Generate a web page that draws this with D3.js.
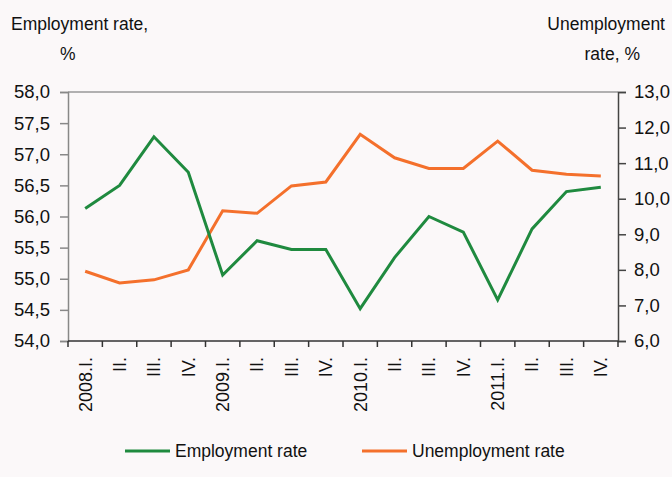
<!DOCTYPE html>
<html lang="en">
<head>
    <meta charset="UTF-8">
    <title>Employment and unemployment rate</title>
    <style>
    body { margin: 0; background: #fbf8f9; }
    svg { display: block; font-family: "Liberation Sans Narrow", "Liberation Sans", Arial, sans-serif; }
    .line { fill: none; stroke-width: 3px; stroke-linejoin: miter; }
    </style>
</head>
<body>
    <svg width="672" height="477"></svg>
    <script src="https://d3js.org/d3.v7.min.js"></script>
    <script type="text/javascript">
        var quarters = ["2008.I.", "II.", "III.", "IV.", "2009.I.", "II.", "III.", "IV.",
                        "2010.I.", "II.", "III.", "IV.", "2011.I.", "II.", "III.", "IV."];
        var employment = [56.13, 56.5, 57.28, 56.71, 55.06, 55.61, 55.47, 55.47,
                          54.52, 55.34, 56.0, 55.75, 54.66, 55.8, 56.4, 56.47];
        var unemployment = [7.96, 7.63, 7.72, 8.0, 9.66, 9.59, 10.36, 10.47,
                            11.81, 11.15, 10.85, 10.85, 11.62, 10.8, 10.69, 10.64];
        var leftTicks = [54, 54.5, 55, 55.5, 56, 56.5, 57, 57.5, 58];
        var rightTicks = [6, 7, 8, 9, 10, 11, 12, 13];

        var green = "#1f8a3f", orange = "#f4702c";

        var svg = d3.select("svg"),
            margin = {top: 92, right: 54, bottom: 136, left: 68},
            width = 672 - margin.left - margin.right,
            height = 477 - margin.top - margin.bottom,
            g = svg.append("g").attr("transform", "translate(" + margin.left + "," + margin.top + ")");

        var x = d3.scaleBand().domain(d3.range(quarters.length)).range([0, width]),
            yL = d3.scaleLinear().domain([54, 58]).range([height, 0]),
            yR = d3.scaleLinear().domain([6, 13]).range([height, 0]);

        var fmt = function(d) { return d3.format(".1f")(d).replace(".", ","); };

        // top frame line
        g.append("line")
          .attr("x1", 0).attr("x2", width)
          .attr("y1", 0).attr("y2", 0)
          .attr("stroke", "#999").attr("stroke-width", 1.5);

        var axL = g.append("g")
          .call(d3.axisLeft(yL).tickValues(leftTicks).tickFormat(fmt).tickSize(8).tickPadding(10));
        axL.select(".domain").attr("stroke", "#888").attr("stroke-width", 1.5);
        axL.selectAll(".tick line").attr("stroke", "#888").attr("stroke-width", 1.5);
        axL.selectAll("text").attr("font-size", "18.5px").attr("fill", "#111").attr("font-family", null);

        var axR = g.append("g")
          .attr("transform", "translate(" + width + ",0)")
          .call(d3.axisRight(yR).tickValues(rightTicks).tickFormat(fmt).tickSize(8).tickPadding(8));
        axR.select(".domain").attr("stroke", "#444").attr("stroke-width", 1.5);
        axR.selectAll(".tick line").attr("stroke", "#444").attr("stroke-width", 1.5);
        axR.selectAll("text").attr("font-size", "18.5px").attr("fill", "#111").attr("font-family", null);

        // bottom axis with ticks at band edges
        var edges = d3.range(quarters.length + 1).map(function(i) { return i * x.step(); });
        var axB = g.append("g").attr("transform", "translate(0," + height + ")");
        axB.append("line").attr("x1", 0).attr("x2", width)
          .attr("stroke", "#333").attr("stroke-width", 1.5);
        axB.selectAll(".edge").data(edges).enter().append("line")
          .attr("x1", function(d) { return d; }).attr("x2", function(d) { return d; })
          .attr("y1", 0).attr("y2", 6)
          .attr("stroke", "#333").attr("stroke-width", 1.5);
        axB.selectAll(".qlabel").data(quarters).enter().append("text")
          .attr("transform", function(d, i) {
            return "translate(" + (x(i) + x.bandwidth() / 2) + ",16) rotate(-90)";
          })
          .attr("text-anchor", "end")
          .attr("dy", "0.35em")
          .attr("font-size", "18px")
          .attr("fill", "#111")
          .text(function(d) { return d; });

        var lineL = d3.line()
          .x(function(d, i) { return x(i) + x.bandwidth() / 2; })
          .y(function(d) { return yL(d); });
        var lineR = d3.line()
          .x(function(d, i) { return x(i) + x.bandwidth() / 2; })
          .y(function(d) { return yR(d); });

        g.append("path").datum(unemployment).attr("class", "line")
          .attr("stroke", orange).attr("d", lineR);
        g.append("path").datum(employment).attr("class", "line")
          .attr("stroke", green).attr("d", lineL);

        // axis titles
        svg.append("text").attr("x", 11).attr("y", 30)
          .attr("font-size", "17.5px").attr("fill", "#111").text("Employment rate,");
        svg.append("text").attr("x", 60).attr("y", 60)
          .attr("font-size", "17.5px").attr("fill", "#111").text("%");
        svg.append("text").attr("x", 665).attr("y", 30).attr("text-anchor", "end")
          .attr("font-size", "17.5px").attr("fill", "#111").text("Unemployment");
        svg.append("text").attr("x", 640).attr("y", 60).attr("text-anchor", "end")
          .attr("font-size", "17.5px").attr("fill", "#111").text("rate, %");

        // legend
        var legend = [
          {name: "Employment rate", color: green, x: 125},
          {name: "Unemployment rate", color: orange, x: 362}
        ];
        var lg = svg.selectAll(".legend").data(legend).enter().append("g")
          .attr("transform", function(d) { return "translate(" + d.x + ",451)"; });
        lg.append("line").attr("x1", 0).attr("x2", 45)
          .attr("stroke", function(d) { return d.color; }).attr("stroke-width", 3);
        lg.append("text").attr("x", 50).attr("dy", "0.35em")
          .attr("font-size", "17.5px").attr("fill", "#111")
          .text(function(d) { return d.name; });
    </script>
</body>
</html>
